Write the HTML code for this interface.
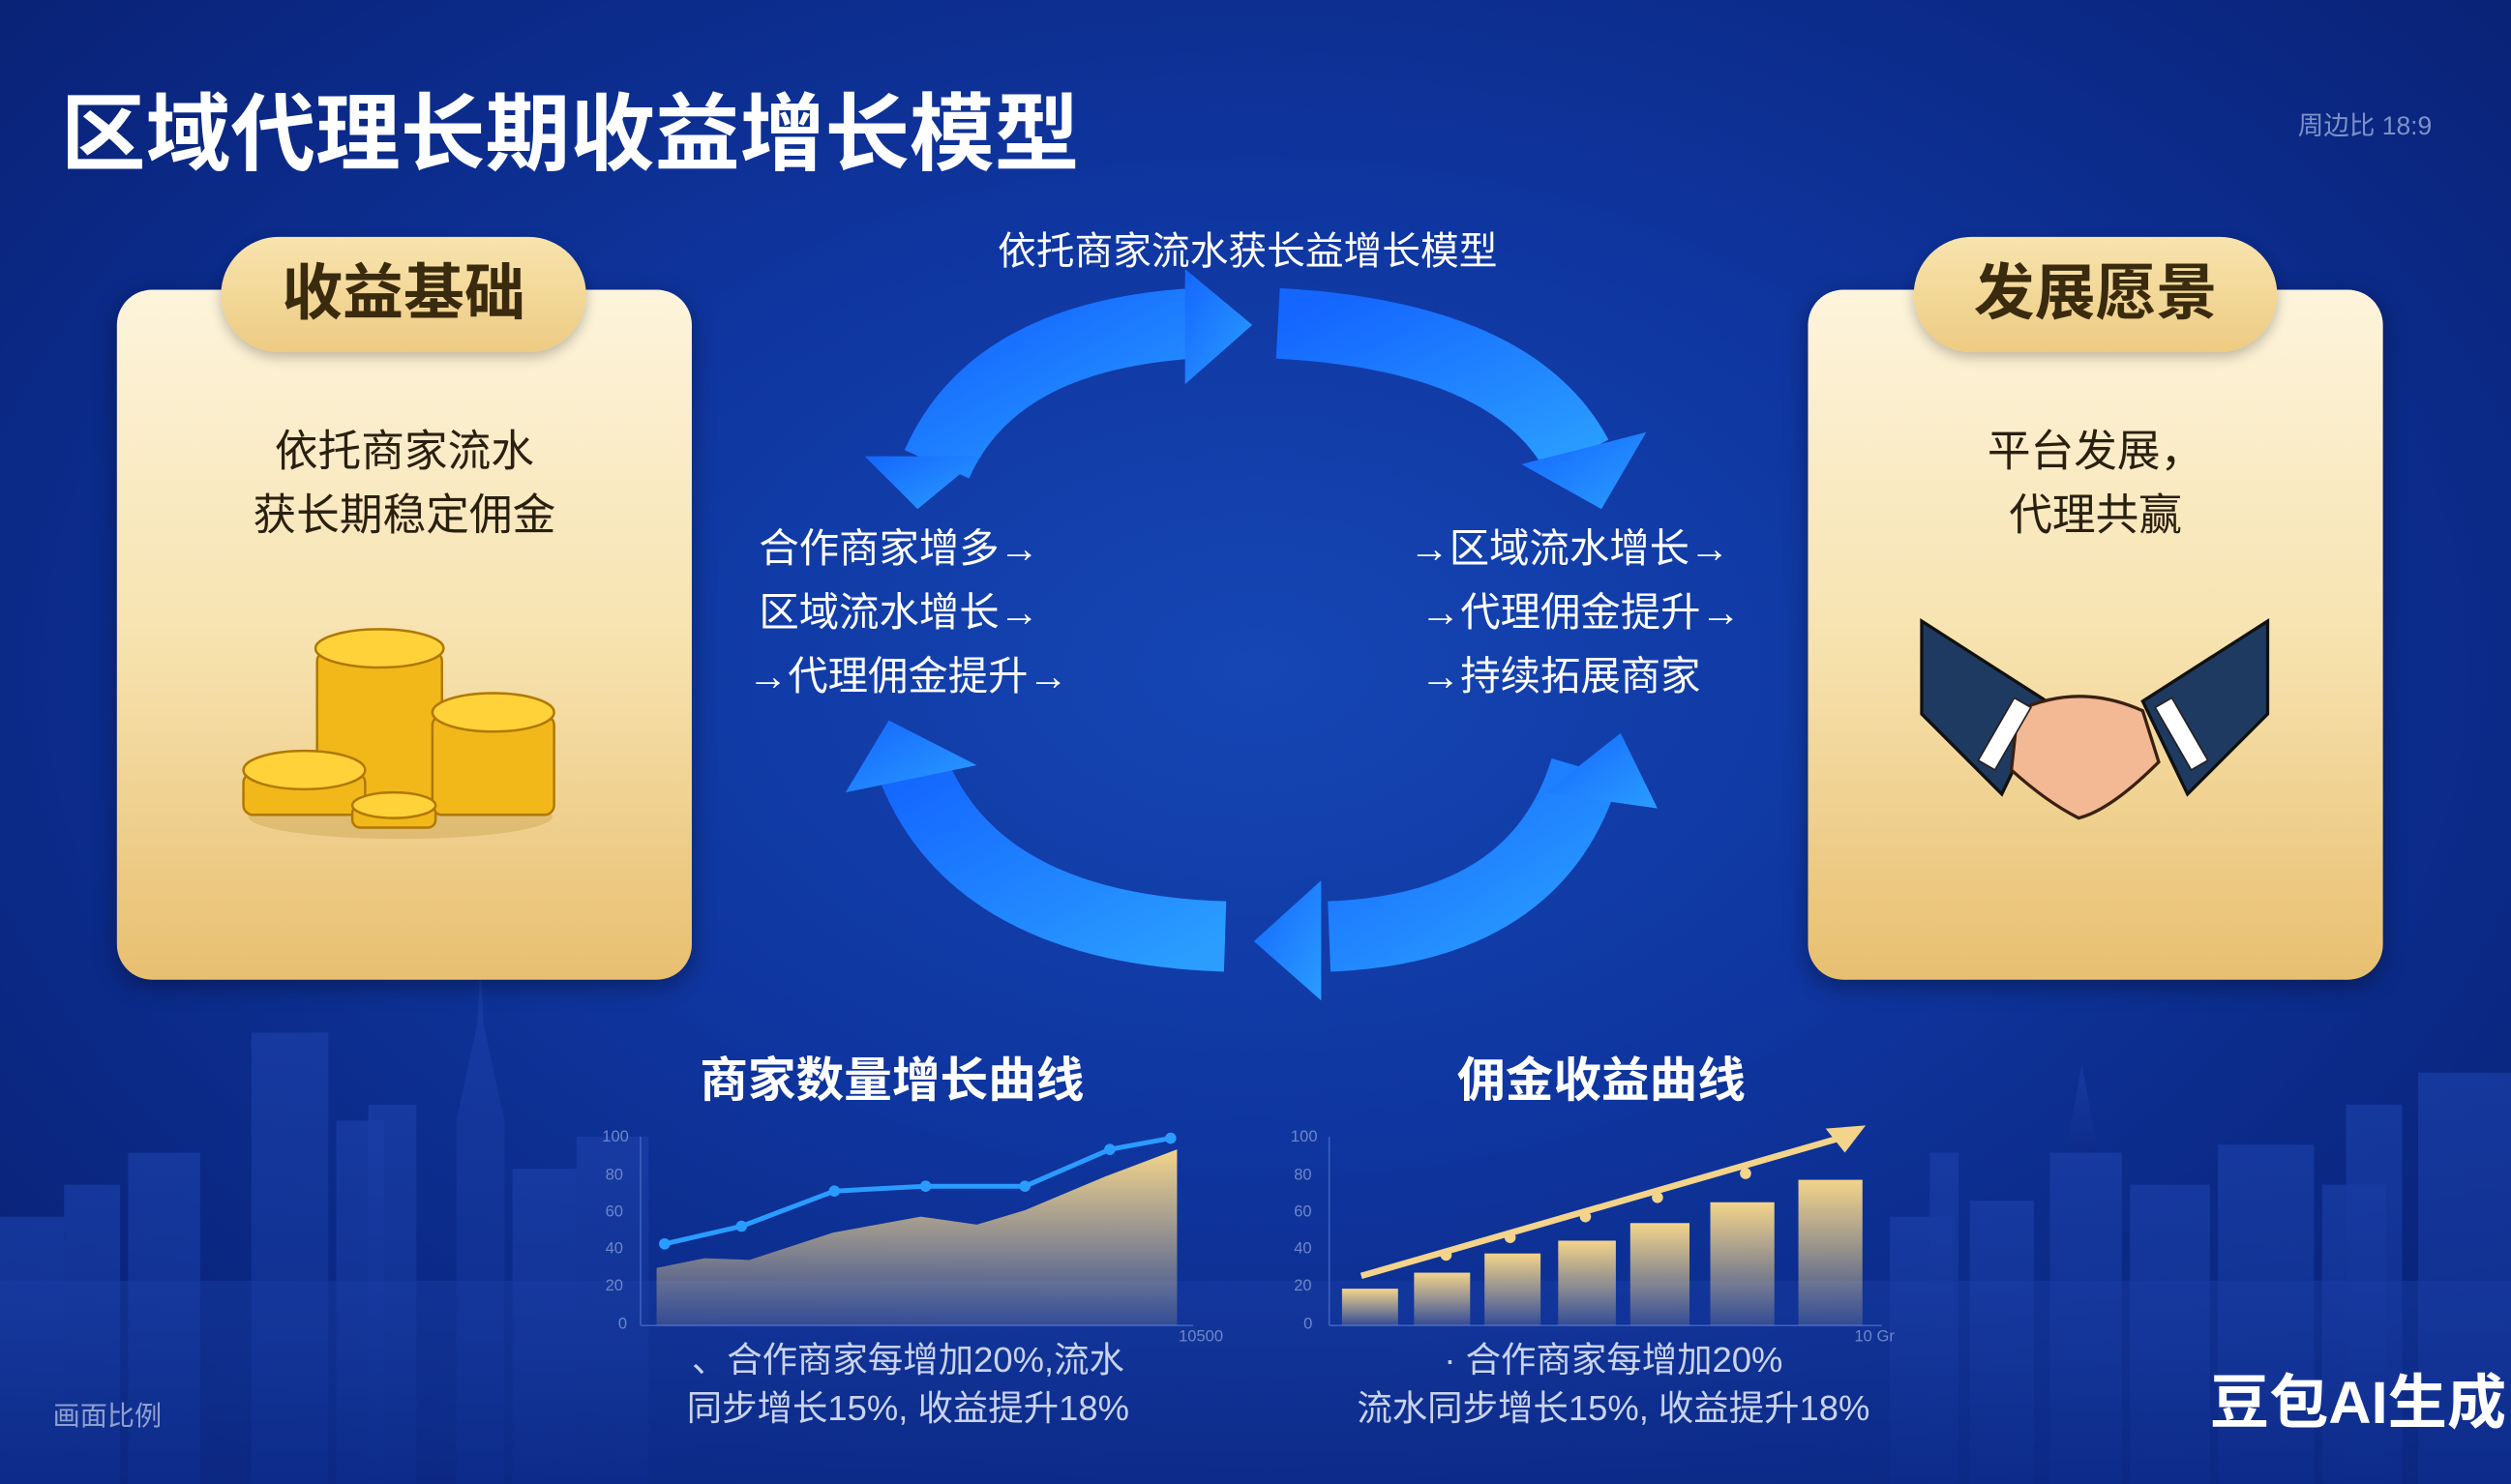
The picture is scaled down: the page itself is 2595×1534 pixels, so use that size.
<!DOCTYPE html>
<html><head><meta charset="utf-8"><style>
html,body{margin:0;padding:0;width:2595px;height:1534px;overflow:hidden;background:#0b2a86;}
#s{position:absolute;left:0;top:0;width:1568px;height:927px;transform:scale(1.655,1.6548);transform-origin:0 0;
background:radial-gradient(ellipse at 50% 45%,#1546b4 0%,#0f36a0 40%,#0a2680 80%,#082070 100%);
font-family:"Liberation Sans","Noto Sans CJK SC",sans-serif;overflow:hidden;}
.t{position:absolute;white-space:nowrap;}
.card{position:absolute;top:181px;width:359px;height:431px;border-radius:22px;background:linear-gradient(#fdf4dc 0%,#f7e3b0 50%,#e8bf70 100%);box-shadow:0 4px 14px rgba(0,0,0,.35);}
.tab{position:absolute;top:148px;height:72px;border-radius:36px;background:linear-gradient(#f8e4ae,#edcb82);box-shadow:0 3px 8px rgba(0,0,0,.25);color:#3a2a0e;font-size:38px;font-weight:bold;text-align:center;line-height:72px;}
.ct{position:absolute;text-align:center;color:#2a2010;font-size:27px;line-height:40px;}
.mid{color:#fff;font-size:25px;line-height:40px;}
.cap{color:#c9d3ee;font-size:22px;text-align:center;line-height:30px;}
</style></head><body><div id="s">
<svg width="1568" height="927" style="position:absolute;left:0;top:0">
<defs>
<linearGradient id="ag" x1="0" y1="0" x2="1" y2="1"><stop offset="0" stop-color="#1466ff"/><stop offset="1" stop-color="#2a9dff"/></linearGradient>
<linearGradient id="ar" x1="0" y1="0" x2="0" y2="1"><stop offset="0" stop-color="#f3d48a"/><stop offset="1" stop-color="#f3d48a" stop-opacity="0.15"/></linearGradient>
<linearGradient id="sk" x1="0" y1="0" x2="0" y2="1"><stop offset="0" stop-color="#1a3fa8" stop-opacity=".7"/><stop offset="1" stop-color="#0d2b8a" stop-opacity=".9"/></linearGradient>
</defs>
<g fill="url(#sk)">
<rect x="0" y="760" width="40" height="167"/><rect x="40" y="740" width="35" height="187"/><rect x="80" y="720" width="45" height="207"/>
<rect x="157" y="645" width="48" height="282"/><rect x="210" y="700" width="30" height="227"/><rect x="230" y="690" width="30" height="237"/>
<polygon points="285,700 298,640 300,600 302,640 315,700 315,927 285,927"/><rect x="320" y="730" width="40" height="197"/>
<rect x="360" y="710" width="45" height="217"/><rect x="1180" y="760" width="40" height="167"/><rect x="1230" y="750" width="40" height="177"/>
<rect x="1280" y="720" width="45" height="207"/><polygon points="1290,720 1300,665 1310,720"/><rect x="1330" y="740" width="50" height="187"/>
<rect x="1385" y="715" width="60" height="212"/><rect x="1450" y="740" width="40" height="187"/><rect x="1465" y="690" width="35" height="237"/>
<rect x="1510" y="670" width="58" height="257"/><rect x="1205" y="720" width="18" height="207"/>
<rect x="0" y="800" width="1568" height="127" opacity=".6"/>
</g>
<g fill="none" stroke="url(#ag)" stroke-width="44">
<path d="M585,290 Q620,210 745,202"/>
<path d="M798,202 Q945,210 985,285"/>
<path d="M990,480 Q960,580 830,585"/>
<path d="M765,585 Q610,580 570,480"/>
</g>
<g fill="url(#ag)">
<polygon points="740,168 782,203 740,240"/>
<polygon points="950,290 1028,270 1000,318"/>
<polygon points="965,495 1012,458 1035,505"/>
<polygon points="783,588 825,550 825,625"/>
<polygon points="528,495 555,450 610,478"/>
<polygon points="540,285 613,285 573,318"/>
</g>
<g stroke="#3a60c0" stroke-width="1"><line x1="400" y1="828" x2="745" y2="828"/><line x1="400" y1="710" x2="400" y2="828"/></g>
<polygon points="410,792 440,786 468,787 520,770 575,760 610,765 640,756 690,735 735,718 735,828 410,828" fill="url(#ar)"/>
<polyline points="415,777 463,766 521,744 578,741 640,741 693,718 731,711" fill="none" stroke="#2a9cff" stroke-width="3"/>
<g fill="#2a9cff"><circle cx="415" cy="777" r="3.5"/><circle cx="463" cy="766" r="3.5"/><circle cx="521" cy="744" r="3.5"/><circle cx="578" cy="741" r="3.5"/><circle cx="640" cy="741" r="3.5"/><circle cx="693" cy="718" r="3.5"/><circle cx="731" cy="711" r="3.5"/></g>
<g fill="#6f86c8" font-size="10" font-family="Liberation Sans"><text x="376" y="713">100</text><text x="378" y="737">80</text><text x="378" y="760">60</text><text x="378" y="783">40</text><text x="378" y="806">20</text><text x="386" y="830">0</text><text x="736" y="838">10500</text></g>
<g stroke="#3a60c0" stroke-width="1"><line x1="830" y1="828" x2="1175" y2="828"/><line x1="830" y1="710" x2="830" y2="828"/></g>
<g fill="url(#ar)"><rect x="838" y="805" width="35" height="23"/><rect x="883" y="795" width="35" height="33"/><rect x="927" y="783" width="35" height="45"/><rect x="973" y="775" width="36" height="53"/><rect x="1018" y="764" width="37" height="64"/><rect x="1068" y="751" width="40" height="77"/><rect x="1123" y="737" width="40" height="91"/></g>
<line x1="850" y1="797" x2="1152" y2="710" stroke="#f3d48a" stroke-width="4"/>
<polygon points="1165,703 1140,705 1152,720" fill="#f3d48a"/>
<g fill="#f3d48a"><circle cx="903" cy="784" r="3.5"/><circle cx="943" cy="773" r="3.5"/><circle cx="990" cy="760" r="3.5"/><circle cx="1035" cy="748" r="3.5"/><circle cx="1090" cy="733" r="3.5"/></g>
<g fill="#6f86c8" font-size="10" font-family="Liberation Sans"><text x="806" y="713">100</text><text x="808" y="737">80</text><text x="808" y="760">60</text><text x="808" y="783">40</text><text x="808" y="806">20</text><text x="814" y="830">0</text><text x="1158" y="838">10 Gr</text></g>
</svg>

<div class="t" style="left:38px;top:42px;font-size:53px;font-weight:bold;color:#fff">区域代理长期收益增长模型</div>
<div class="t" style="left:1435px;top:65px;font-size:16px;color:#7d92c8">周边比 18:9</div>

<div class="card" style="left:73px"></div>
<div class="tab" style="left:138px;width:228px">收益基础</div>
<div class="ct" style="left:73px;width:359px;top:262px">依托商家流水<br>获长期稳定佣金</div>
<svg style="position:absolute;left:140px;top:385px" width="220" height="150">
<ellipse cx="110" cy="125" rx="95" ry="14" fill="#c9a050" opacity=".4"/>
<g stroke="#b07800" stroke-width="1.5">
<g fill="#f2b81a"><rect x="58" y="22" width="78" height="100" rx="6"/><ellipse cx="97" cy="20" rx="40" ry="12" fill="#ffd23a"/>
<rect x="130" y="62" width="76" height="62" rx="6"/><ellipse cx="168" cy="60" rx="38" ry="12" fill="#ffd23a"/>
<rect x="12" y="98" width="76" height="26" rx="6"/><ellipse cx="50" cy="96" rx="38" ry="12" fill="#ffd23a"/>
<rect x="80" y="118" width="52" height="14" rx="5"/><ellipse cx="106" cy="118" rx="26" ry="8" fill="#ffd23a"/></g>
</g></svg>

<div class="card" style="left:1129px"></div>
<div class="tab" style="left:1195px;width:227px">发展愿景</div>
<div class="ct" style="left:1129px;width:359px;top:262px">平台发展，<br>代理共赢</div>
<svg style="position:absolute;left:1198px;top:386px" width="220" height="130">
<polygon points="2,2 2,60 52,110 80,52" fill="#1e3a60" stroke="#111" stroke-width="2"/>
<polygon points="218,2 218,60 168,110 140,52" fill="#1e3a60" stroke="#111" stroke-width="2"/>
<path d="M62,58 Q100,40 140,58 L150,90 Q120,120 100,125 Q80,115 58,95 Z" fill="#f3b894" stroke="#3a2010" stroke-width="2"/>
<rect x="48" y="50" width="12" height="45" fill="#fff" stroke="#222" transform="rotate(30 54 72)"/>
<rect x="158" y="50" width="12" height="45" fill="#fff" stroke="#222" transform="rotate(-30 164 72)"/>
</svg>

<div class="t" style="left:623px;top:137px;font-size:24px;color:#fff">依托商家流水获长益增长模型</div>
<div class="t mid" style="left:467px;top:323px">&nbsp;合作商家增多→<br>&nbsp;区域流水增长→<br>→代理佣金提升→</div>
<div class="t mid" style="left:880px;top:323px">→区域流水增长→<br>&nbsp;→代理佣金提升→<br>&nbsp;→持续拓展商家</div>

<div class="t" style="left:437px;top:650px;font-size:30px;font-weight:bold;color:#fff">商家数量增长曲线</div>
<div class="t" style="left:910px;top:650px;font-size:30px;font-weight:bold;color:#fff">佣金收益曲线</div>
<div class="t cap" style="left:417px;width:300px;top:835px">、合作商家每增加20%,流水<br>同步增长15%, 收益提升18%</div>
<div class="t cap" style="left:840px;width:335px;top:835px">· 合作商家每增加20%<br>流水同步增长15%, 收益提升18%</div>
<div class="t" style="left:33px;top:870px;font-size:17px;color:#8ea0d0">画面比例</div>
<div class="t" style="left:1380px;top:846px;font-size:37px;font-weight:bold;color:#fff">豆包AI生成</div>
</div></body></html>
